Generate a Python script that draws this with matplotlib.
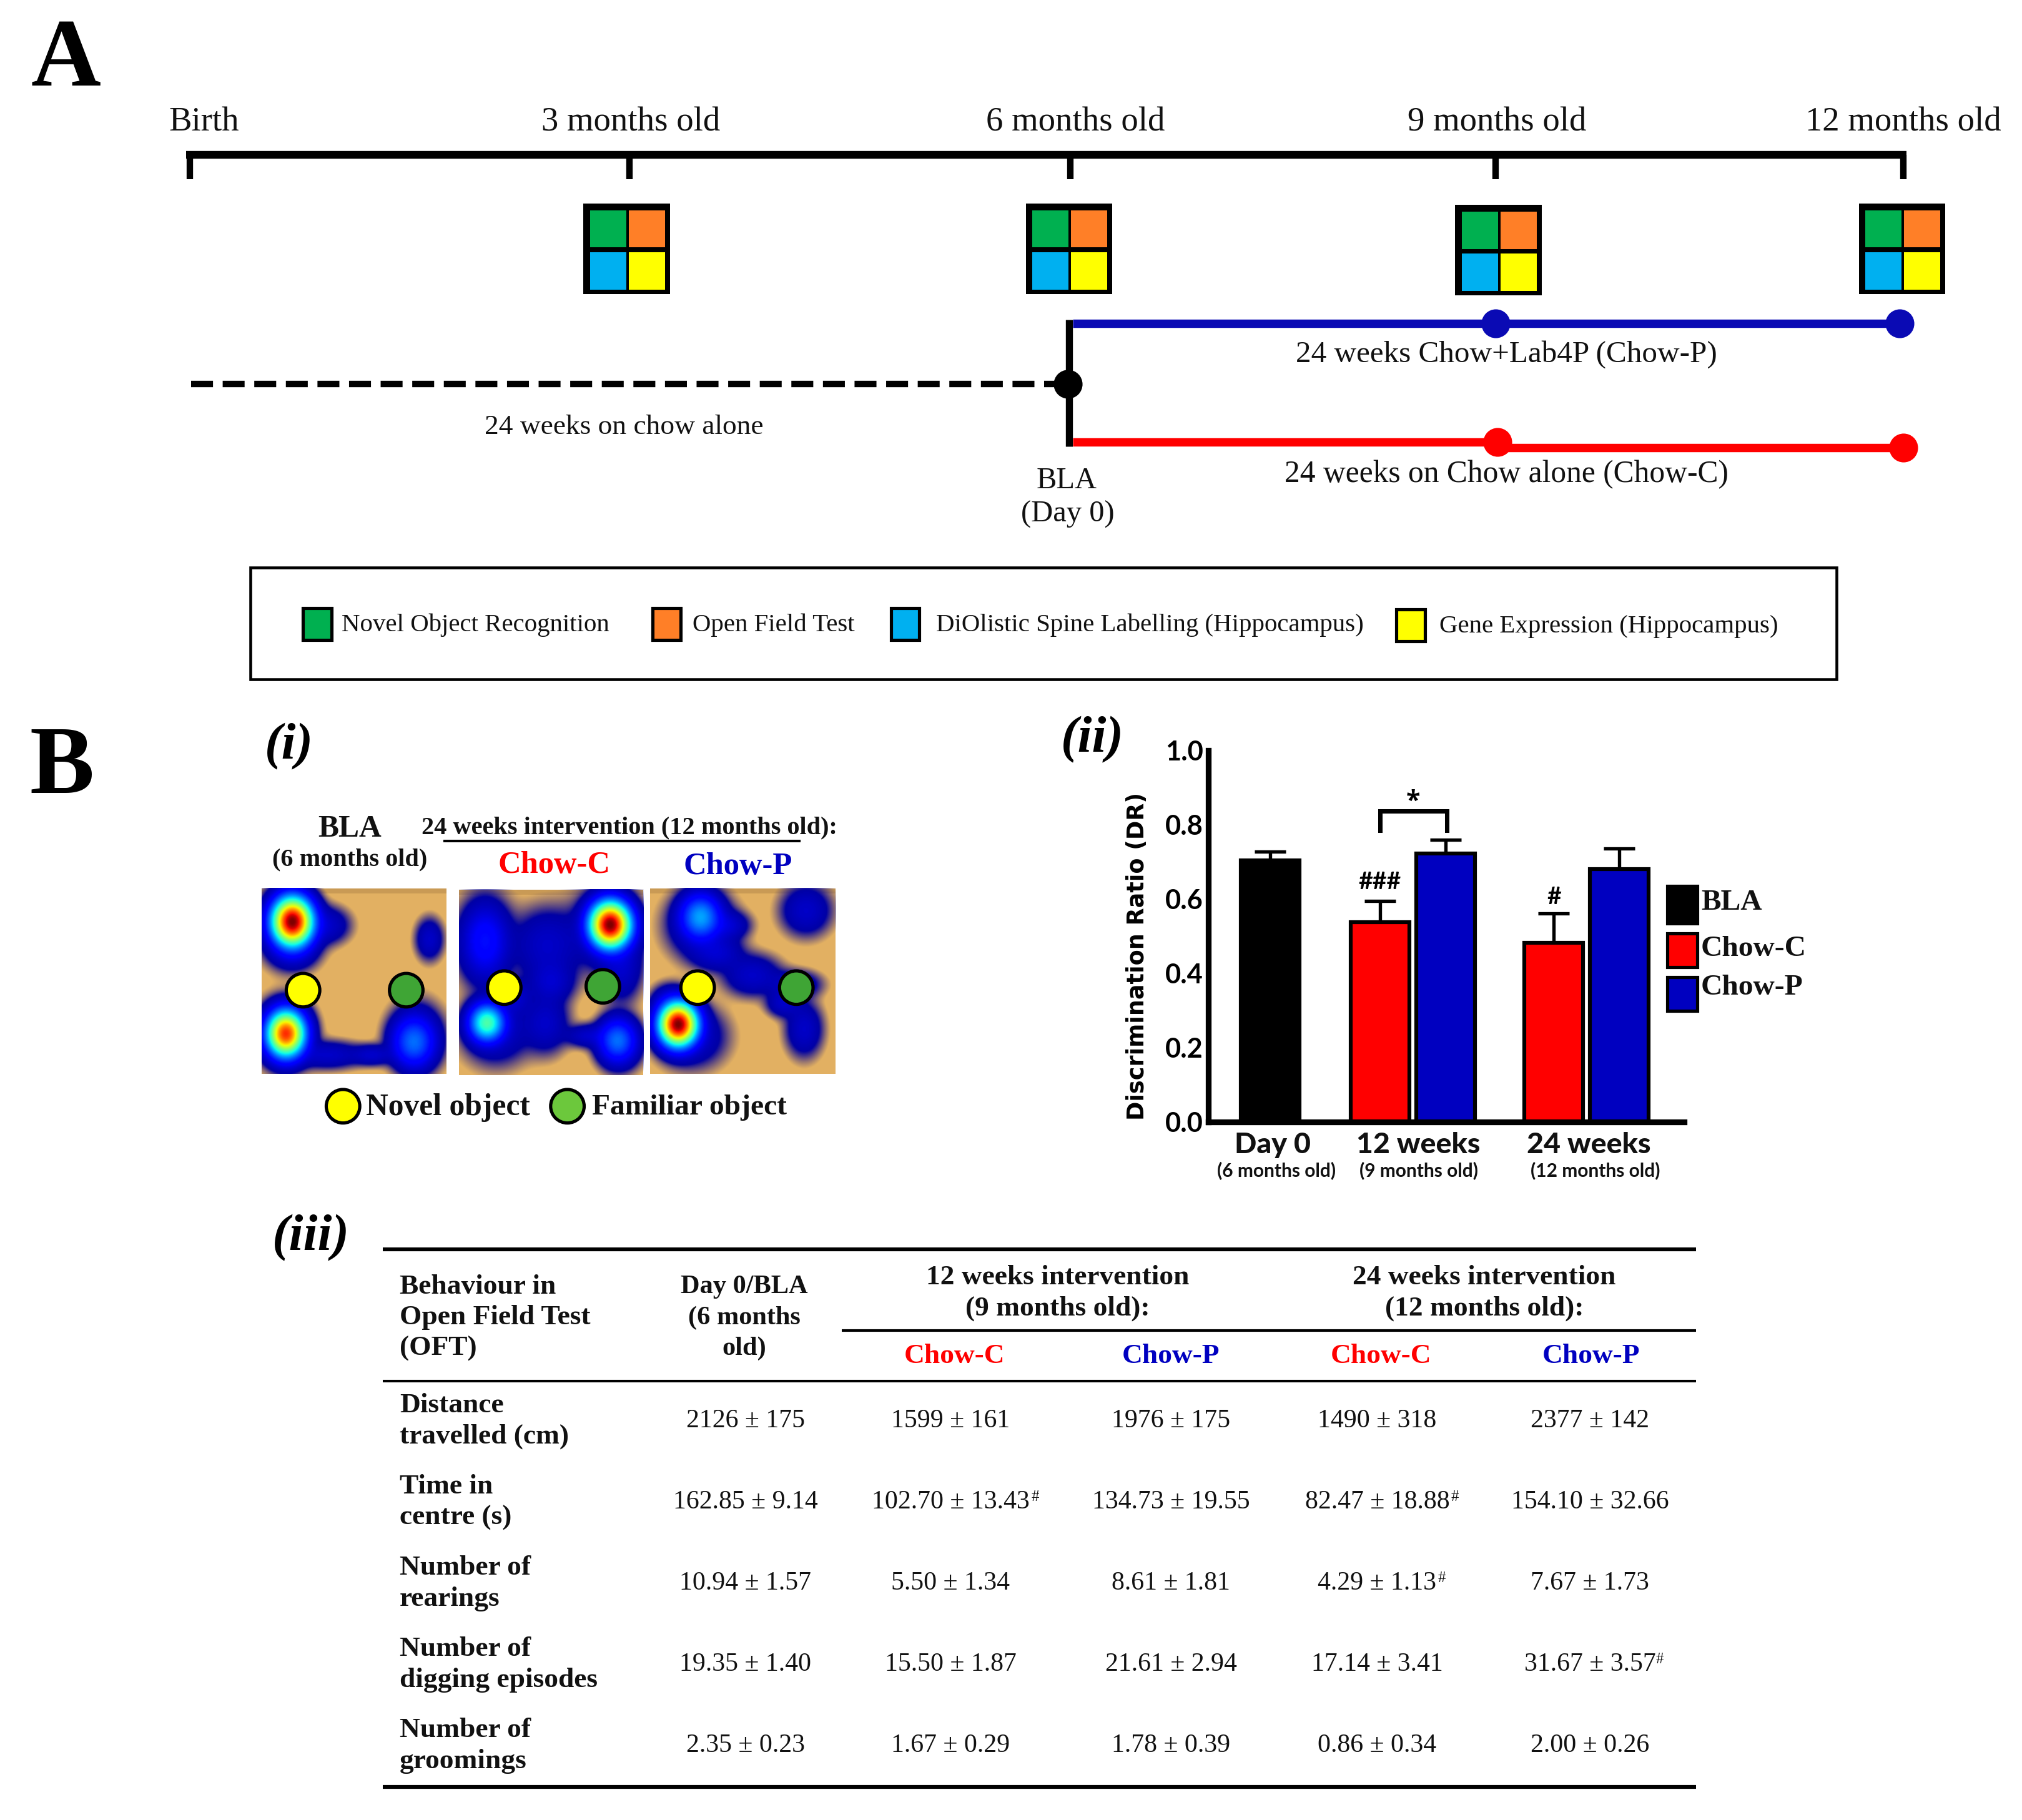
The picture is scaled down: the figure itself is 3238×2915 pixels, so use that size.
import numpy as np
import matplotlib
matplotlib.use('Agg')
import matplotlib.pyplot as plt
from matplotlib.patches import Rectangle, Ellipse
from matplotlib import colormaps

# values
bar_labels = ['BLA', 'Chow-C', 'Chow-P']
bla_mean = [0.703]
bla_top = [0.727]
chow_c_mean = [0.538, 0.482]
chow_c_top = [0.595, 0.561]
chow_p_mean = [0.722, 0.680]
chow_p_top = [0.760, 0.735]
y_ticks = [0.0, 0.2, 0.4, 0.6, 0.8, 1.0]

timeline_labels = ['Birth', '3 months old', '6 months old', '9 months old', '12 months old']

row_names = [['Distance', 'travelled (cm)'], ['Time in', 'centre (s)'], ['Number of', 'rearings'],
             ['Number of', 'digging episodes'], ['Number of', 'groomings']]
col_bla = ['2126 ± 175', '162.85 ± 9.14', '10.94 ± 1.57', '19.35 ± 1.40', '2.35 ± 0.23']
col_c12 = ['1599 ± 161', '102.70 ± 13.43', '5.50 ± 1.34', '15.50 ± 1.87', '1.67 ± 0.29']
col_p12 = ['1976 ± 175', '134.73 ± 19.55', '8.61 ± 1.81', '21.61 ± 2.94', '1.78 ± 0.39']
col_c24 = ['1490 ± 318', '82.47 ± 18.88', '4.29 ± 1.13', '17.14 ± 3.41', '0.86 ± 0.34']
col_p24 = ['2377 ± 142', '154.10 ± 32.66', '7.67 ± 1.73', '31.67 ± 3.57', '2.00 ± 0.26']

# heat spots of the three tracking panels: x, y, sx, sy, peak (fractions of a panel)
spots_bla = [(.165, .18, .08, .095, 1.0), (.13, .785, .075, .09, .88), (.825, .83, .085, .10, .28),
             (.14, .20, .125, .15, .10), (.17, .33, .11, .09, .10), (.35, .20, .10, .08, .10),
             (.91, .275, .06, .09, .10), (.12, .79, .125, .15, .10), (.36, .90, .15, .06, .10),
             (.60, .90, .09, .045, .10), (.84, .80, .12, .15, .10)]
spots_c = [(.82, .19, .08, .09, 1.0), (.15, .72, .07, .075, .50), (.86, .815, .075, .085, .28),
           (.14, .28, .09, .14, .16), (.14, .28, .125, .20, .10), (.475, .30, .15, .16, .10),
           (.80, .22, .16, .18, .10), (.50, .50, .10, .09, .10), (.88, .42, .09, .15, .10),
           (.47, .72, .10, .13, .10), (.20, .76, .15, .15, .10), (.70, .79, .10, .05, .10),
           (.87, .83, .10, .12, .10), (.30, .58, .075, .075, .10)]
spots_p = [(.15, .735, .075, .085, 1.0), (.27, .155, .08, .09, .34), (.84, .12, .11, .11, .10),
           (.27, .20, .15, .15, .10), (.42, .20, .09, .06, .10), (.36, .35, .11, .075, .10),
           (.55, .47, .125, .09, .10), (.78, .52, .11, .06, .10), (.83, .76, .08, .12, .10),
           (.72, .62, .075, .06, .10), (.22, .80, .15, .135, .10), (.10, .62, .08, .08, .10)]

P = 0.7434  # one px of the layout grid in points


def draw_panel(ax, x0, x1, y0, y1, spots):
    u, v = np.meshgrid(np.linspace(0, 1, 220), np.linspace(0, 1, 220))
    d = np.zeros_like(u)
    for cx, cy, sx, sy, peak in spots:
        d += (peak * np.exp(-((u - cx) ** 2 / (2 * sx ** 2) + (v - cy) ** 2 / (2 * sy ** 2)))) ** 2
    d = d ** 0.5
    rgba = colormaps['jet'](d ** 1.2)
    rgba[..., 3] = np.clip((d - 0.02) / 0.04, 0, 1)
    ax.add_patch(Rectangle((x0, y0), x1 - x0, y1 - y0, fc='#E2B062', ec='none', zorder=1))
    ax.add_patch(Rectangle((x0, y0), x1 - x0, 4, fc='#C99A55', ec='none', zorder=1))
    ax.imshow(rgba, extent=(x0, x1, y1, y0), aspect='auto', zorder=2, interpolation='bilinear')


def obj(ax, x, y, col, r=13):
    ax.add_patch(Ellipse((x, y), r * 2, r * 2, fc=col, ec='black', lw=2.5 * P, zorder=4))


fig = plt.figure(figsize=(16.19, 14.575), dpi=200)
ax = fig.add_axes([0, 0, 1, 1])
SERIF = 'Liberation Serif'


def t(x, y, s, size, **kw):
    kw.setdefault('ha', 'center')
    kw.setdefault('va', 'center')
    kw.setdefault('family', SERIF)
    kw.setdefault('color', '#111111')
    if kw['family'] == SERIF:
        y = y + 2
    ax.text(x, y, s, fontsize=size * P, **kw)


# ---- A: timeline
t(51, 46, 'A', 75, weight='bold', color='black')
tick_x = [147, 488, 830, 1160, 1476]
label_x = [158, 489, 834, 1161, 1476]
ax.plot([144.5, 1478.5], [120, 120], color='black', lw=6 * P, solid_capstyle='butt')
for x, lx, lab in zip(tick_x, label_x, timeline_labels):
    ax.plot([x, x], [120, 139], color='black', lw=5 * P, solid_capstyle='butt')
    t(lx, 93, lab, 26.5)

icon_x = [486, 829, 1162, 1475]
icon_y = [193, 193, 194, 193]
icon_cols = [['#00B050', '#FF7F27'], ['#00B0F0', '#FFFF00']]
for cx, cy in zip(icon_x, icon_y):
    ax.add_patch(Rectangle((cx - 33.5, cy - 35), 67, 70, fc='black', ec='none', zorder=2))
    for i in range(2):
        for j in range(2):
            ax.add_patch(Rectangle((cx - 28.5 + j * 30.2, cy - 30 + i * 32.5), 28, 29,
                                   fc=icon_cols[i][j], ec='none', zorder=3))

ax.plot([148, 828], [298, 298], color='black', lw=5 * P, ls=(0, (3.4, 1.5)))
ax.plot([829, 829], [248, 346], color='black', lw=5.5 * P, solid_capstyle='butt')
ax.plot([828], [298], 'o', color='black', ms=21 * P, zorder=5)
ax.plot([832, 1473], [251, 251], color='#0A0AB4', lw=6.5 * P, solid_capstyle='butt')
ax.plot([1160, 1473], [251, 251], 'o', color='#0A0AB4', ms=21 * P, ls='none')
ax.plot([832, 1161], [343, 343], color='#FF0000', lw=6.5 * P, solid_capstyle='butt')
ax.plot([1161, 1476], [347, 347], color='#FF0000', lw=6.5 * P, solid_capstyle='butt')
ax.plot([1161, 1476], [343, 347], 'o', color='#FF0000', ms=21 * P, ls='none')

t(1168, 273, '24 weeks Chow+Lab4P (Chow-P)', 23.8)
t(1168, 366, '24 weeks on Chow alone (Chow-C)', 24)
t(484, 329, '24 weeks on chow alone', 22)
t(827, 371, 'BLA', 23.5)
t(828, 397, '(Day 0)', 23.5)

ax.add_patch(Rectangle((194, 440), 1230, 87, fc='none', ec='black', lw=2.2 * P))
key_x = [246, 517, 702, 1094]
key_tx = [265, 537, 726, 1116]
key_y = [484, 484, 484, 485]
key_lab = ['Novel Object Recognition', 'Open Field Test', 'DiOlistic Spine Labelling (Hippocampus)',
           'Gene Expression (Hippocampus)']
key_cols = ['#00B050', '#FF7F27', '#00B0F0', '#FFFF00']
for x, tx, y, lab, col in zip(key_x, key_tx, key_y, key_lab, key_cols):
    ax.add_patch(Rectangle((x - 11, y - 12.5), 22, 25, fc=col, ec='black', lw=2.5 * P))
    t(tx, y - 1, lab, 19.8, ha='left')

# ---- B
t(48, 595, 'B', 75, weight='bold', color='black')
t(224, 577, '(i)', 40, weight='bold', style='italic', color='black')
t(847, 572, '(ii)', 40, weight='bold', style='italic', color='black')
t(241, 958, '(iii)', 40, weight='bold', style='italic', color='black')

t(271, 641, 'BLA', 24, weight='bold')
t(271, 665, '(6 months old)', 19.5, weight='bold')
t(488, 640, '24 weeks intervention (12 months old):', 19.5, weight='bold')
ax.plot([345, 620], [652.5, 652.5], color='black', lw=2 * P)
t(430, 669, 'Chow-C', 24.5, weight='bold', color='#FF0000')
t(572, 670, 'Chow-P', 24.5, weight='bold', color='#0000C0')

draw_panel(ax, 203, 346, 689, 833, spots_bla)
draw_panel(ax, 356, 499, 690, 834, spots_c)
draw_panel(ax, 504, 648, 689, 833, spots_p)
GREEN = '#3FA535'
for x, y in [(235, 768), (391, 766), (541, 766)]:
    obj(ax, x, y, '#FFFF00')
for x, y in [(315, 768), (467.5, 765), (617.5, 766)]:
    obj(ax, x, y, GREEN)
obj(ax, 266, 858, '#FFFF00')
obj(ax, 440, 858, '#6CC83C')
t(284, 857, 'Novel object', 24, weight='bold', ha='left')
t(459, 857, 'Familiar object', 23, weight='bold', ha='left')

# ---- B iii: table
for y, x0, w in [(969, 297, 3), (1032, 653, 2), (1071, 297, 2), (1386, 297, 3)]:
    ax.plot([x0, 1315], [y, y], color='black', lw=w * P, solid_capstyle='butt')
for y, s in zip([996, 1020, 1044], ['Behaviour in', 'Open Field Test', '(OFT)']):
    t(310, y, s, 22, weight='bold', ha='left')
for y, s in zip([996, 1020, 1044], ['Day 0/BLA', '(6 months', 'old)']):
    t(577, y, s, 20.5, weight='bold')
t(820, 989, '12 weeks intervention', 22, weight='bold')
t(820, 1013, '(9 months old):', 22, weight='bold')
t(1151, 989, '24 weeks intervention', 22, weight='bold')
t(1151, 1013, '(12 months old):', 22, weight='bold')
for x, s, col in [(740, 'Chow-C', '#FF0000'), (908, 'Chow-P', '#0000C0'),
                  (1071, 'Chow-C', '#FF0000'), (1234, 'Chow-P', '#0000C0')]:
    t(x, 1050, s, 22, weight='bold', color=col)

row_y = [1100, 1163, 1226, 1289, 1352]
col_x = [578, 737, 908, 1068, 1233]
for cx, col in zip(col_x, [col_bla, col_c12, col_p12, col_c24, col_p24]):
    for y, s in zip(row_y, col):
        t(cx, y, s, 20.2)
for y, (a, b) in zip(row_y, row_names):
    t(310, y - 12, a, 22, weight='bold', ha='left')
    t(310, y + 12, b, 22, weight='bold', ha='left')
for x, y in [(803, 1159), (1128, 1159), (1118, 1222), (1287, 1285)]:
    t(x, y, '#', 12)

ax.set_xlim(0, 1568)
ax.set_ylim(1411.6, 0)
ax.axis('off')

# ---- B ii: bars
left, right, top, bottom = 937, 1306, 582, 870
bx = fig.add_axes([left / 1568, 1 - bottom / 1411.6, (right - left) / 1568, (bottom - top) / 1411.6])
bx.patch.set_alpha(0)
x_bla = [985]
x_c = [1070, 1205]
x_p = [1121, 1255.5]
for xs, mean, tops, col, lab in zip([x_bla, x_c, x_p], [bla_mean, chow_c_mean, chow_p_mean],
                                    [bla_top, chow_c_top, chow_p_top],
                                    ['black', '#FF0000', '#0000C0'], bar_labels):
    bx.bar(xs, mean, width=45.5, color=col, edgecolor='black', linewidth=3 * P, label=lab, zorder=2)
    err = np.array(tops) - np.array(mean)
    bx.errorbar(xs, mean, yerr=[np.zeros_like(err), err], fmt='none', ecolor='black',
                elinewidth=2.6 * P, capsize=12 * P, capthick=2.6 * P, zorder=1)
bx.plot([1070, 1070, 1122, 1122], [0.785, 0.836, 0.836, 0.785], color='black', lw=3.4 * P,
        solid_joinstyle='miter')
bx.text(1096, 0.862, '*', fontsize=20 * P, ha='center', va='center', family='Open Sans', weight='bold')
bx.text(1070, 0.645, '###', fontsize=19 * P, ha='center', va='center', family='Lato', weight='bold')
bx.text(1205, 0.605, '#', fontsize=19 * P, ha='center', va='center', family='Lato', weight='bold')
bx.set_xlim(left, right)
bx.set_ylim(0, 1)
bx.set_xticks([])
bx.set_yticks(y_ticks)
bx.set_yticklabels(['%.1f' % v for v in y_ticks], fontsize=21 * P, family='Lato', weight='bold')
bx.tick_params(axis='y', length=0, pad=3)
bx.spines['top'].set_visible(False)
bx.spines['right'].set_visible(False)
bx.spines['left'].set_linewidth(4.5 * P)
bx.spines['bottom'].set_linewidth(4.5 * P)
bx.set_ylabel('Discrimination Ratio (DR)', fontsize=17.7 * P, family='DejaVu Sans', weight='bold')
bx.yaxis.set_label_coords(-0.125, 0.445)

for y, y0, y1, col, lab in [(698, 687, 716, 'black', 'BLA'), (734, 724, 750, '#FF0000', 'Chow-C'),
                            (764, 758, 784, '#0000C0', 'Chow-P')]:
    ax.add_patch(Rectangle((1293, y0), 23, y1 - y0, fc=col, ec='black', lw=2.5 * P))
    t(1319, y, lab, 23, weight='bold', ha='left')

LATO = 'Lato'
for x, s in [(987, 'Day 0'), (1100, '12 weeks'), (1232, '24 weeks')]:
    t(x, 888, s, 22.5, weight=900, family=LATO)
for x, s in [(990, '(6 months old)'), (1100, '(9 months old)'), (1237, '(12 months old)')]:
    t(x, 908, s, 14.5, weight='bold', family=LATO)

fig.savefig('out.png', dpi=200)
